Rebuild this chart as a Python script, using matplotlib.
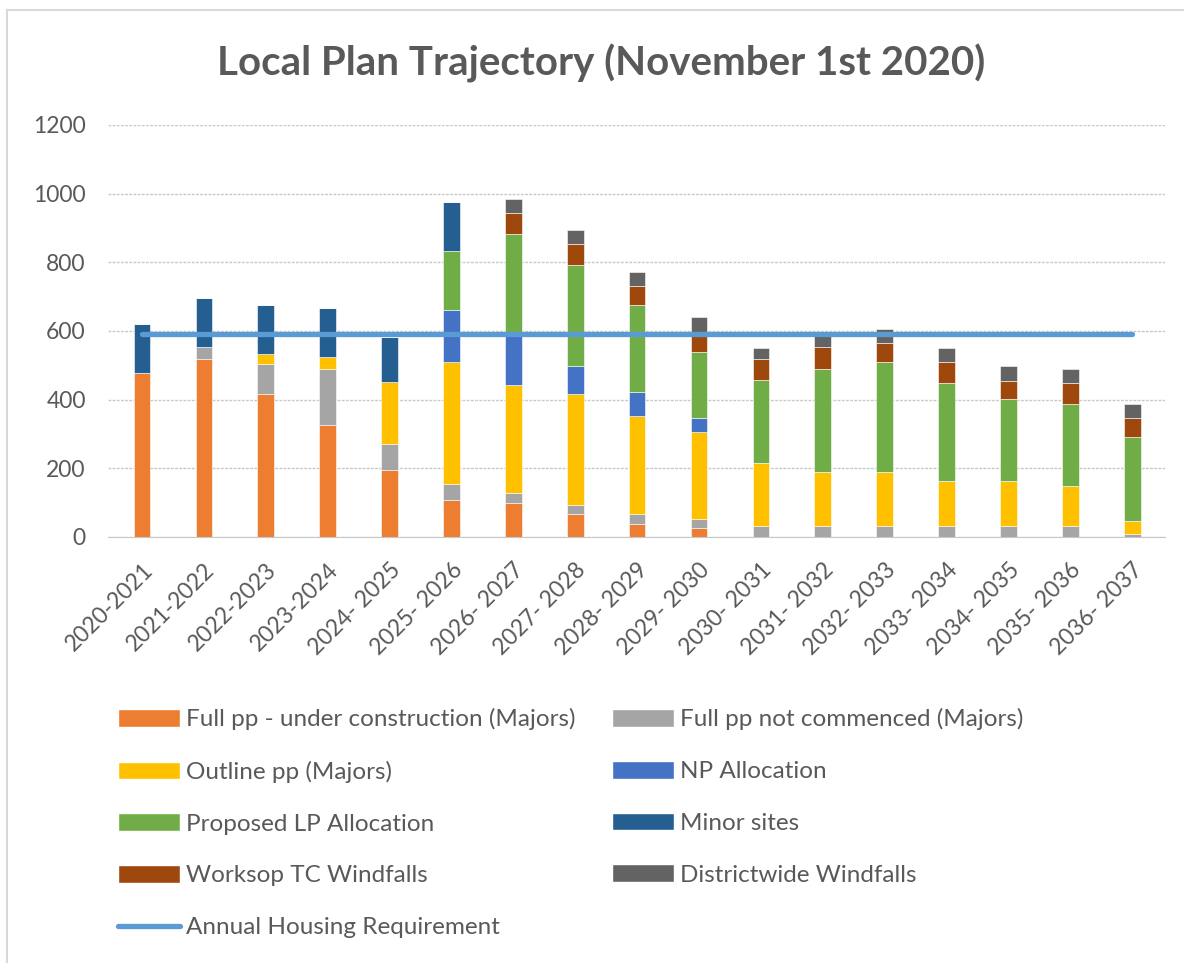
import numpy as np
import matplotlib.pyplot as plt
from matplotlib.patches import Patch
from matplotlib.lines import Line2D

plt.rcParams['font.family'] = ['Lato', 'DejaVu Sans']

years = ['2020-2021', '2021-2022', '2022-2023', '2023-2024', '2024- 2025', '2025- 2026',
         '2026- 2027', '2027- 2028', '2028- 2029', '2029- 2030', '2030- 2031', '2031- 2032',
         '2032- 2033', '2033- 2034', '2034- 2035', '2035- 2036', '2036- 2037']

full_uc = [477, 518, 415, 325, 196, 107, 100, 66, 39, 25, 0, 0, 0, 0, 0, 0, 0]
full_nc = [0, 34, 89, 165, 75, 47, 27, 27, 27, 27, 31, 31, 31, 31, 31, 31, 10]
outline = [0, 0, 28, 34, 179, 357, 316, 322, 287, 253, 185, 157, 157, 131, 131, 117, 36]
np_alloc = [0, 0, 0, 0, 0, 151, 147, 83, 69, 42, 0, 0, 0, 0, 0, 0, 0]
lp_alloc = [0, 0, 0, 0, 0, 171, 292, 294, 254, 192, 240, 302, 323, 287, 239, 239, 245]
minor = [143, 144, 143, 144, 133, 144, 0, 0, 0, 0, 0, 0, 0, 0, 0, 0, 0]
worksop = [0, 0, 0, 0, 0, 0, 61, 62, 55, 55, 62, 62, 54, 62, 54, 62, 56]
district = [0, 0, 0, 0, 0, 0, 41, 40, 40, 48, 33, 36, 41, 40, 42, 41, 40]
requirement = [591] * 17

series = [
    ('Full pp - under construction (Majors)', full_uc, '#ED7D31'),
    ('Full pp not commenced (Majors)', full_nc, '#A5A5A5'),
    ('Outline pp (Majors)', outline, '#FFC000'),
    ('NP Allocation', np_alloc, '#4472C4'),
    ('Proposed LP Allocation', lp_alloc, '#70AD47'),
    ('Minor sites', minor, '#255E91'),
    ('Worksop TC Windfalls', worksop, '#9E480E'),
    ('Districtwide Windfalls', district, '#636363'),
]
line_color = '#5B9BD5'
text_color = '#595959'

fig = plt.figure(figsize=(11.84, 9.63), dpi=100)
ax = fig.add_axes([0.0912, 0.4424, 0.8928, 0.4278])

x = np.arange(len(years))
bottom = np.zeros(len(years))
handles = {}
for name, vals, col in series:
    vals = np.array(vals, dtype=float)
    ax.bar(x, vals, width=0.27, bottom=bottom, color=col, edgecolor='white', linewidth=0.4, zorder=2)
    bottom += vals
    handles[name] = Patch(facecolor=col, edgecolor='white')

ax.plot(x, requirement, color=line_color, linewidth=3.8, solid_capstyle='round', zorder=3)
line_handle = Line2D([], [], color=line_color, linewidth=3.8, solid_capstyle='round')

ax.set_xlim(-0.55, 16.53)
ax.set_ylim(0, 1200)
ax.set_yticks(range(0, 1201, 200))
ax.set_xticks(x)
ax.set_xticklabels(years, rotation=45, ha='right', rotation_mode='anchor')
ax.tick_params(axis='both', length=0, colors=text_color, labelsize=16.5)
ax.tick_params(axis='y', pad=16)
ax.tick_params(axis='x', pad=16)
ax.grid(axis='y', color='#C8C8C8', linestyle=(0, (2, 1)), linewidth=1, zorder=0)
for s in ['top', 'right', 'left']:
    ax.spines[s].set_visible(False)
ax.spines['bottom'].set_color('#C8C8C8')
ax.spines['bottom'].set_linestyle((0, (2, 1)))

fig.text(0.508, 0.934, 'Local Plan Trajectory (November 1st 2020)', ha='center', va='center',
         fontsize=29, fontweight='bold', color=text_color)

col1 = ['Full pp - under construction (Majors)', 'Outline pp (Majors)', 'Proposed LP Allocation',
        'Worksop TC Windfalls']
col2 = ['Full pp not commenced (Majors)', 'NP Allocation', 'Minor sites', 'Districtwide Windfalls']
hs = [handles[n] for n in col1] + [line_handle] + [handles[n] for n in col2]
ls = col1 + ['Annual Housing Requirement'] + col2
leg = fig.legend(hs, ls, ncol=2, loc='upper left', bbox_to_anchor=(0.089, 0.277), frameon=False,
                 fontsize=17.5, labelcolor=text_color, handlelength=2.55, handleheight=0.75,
                 handletextpad=0.25, columnspacing=1.5, labelspacing=1.25, borderpad=0)

fig.add_artist(Line2D([0.006, 0.006], [0, 0.99], transform=fig.transFigure, color='#D9D9D9', linewidth=1.5))
fig.add_artist(Line2D([0.006, 1], [0.99, 0.99], transform=fig.transFigure, color='#D9D9D9', linewidth=1.5))

fig.savefig('out.png', dpi=100)
